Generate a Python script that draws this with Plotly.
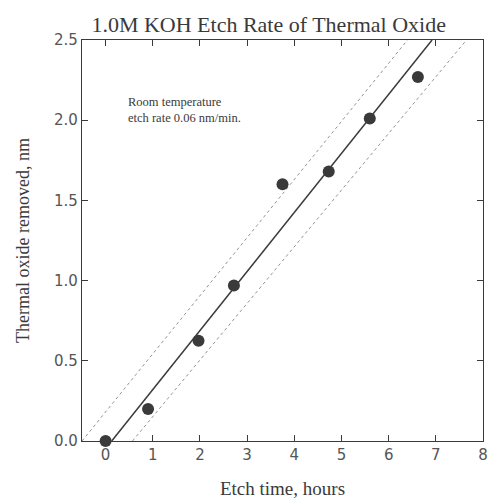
import plotly.graph_objects as go

etch_hours = [0.0, 0.9, 1.97, 2.72, 3.75, 4.73, 5.6, 6.62]
oxide_nm = [0.0, 0.2, 0.625, 0.97, 1.6, 1.68, 2.01, 2.27]

fit_x = [0.13, 6.92]
fit_y = [0.0, 2.5]
upper_x = [-0.5, 6.4]
upper_y = [0.0, 2.5]
lower_x = [0.57, 7.65]
lower_y = [0.0, 2.5]

x_ticks = [0, 1, 2, 3, 4, 5, 6, 7, 8]
y_ticks = [0.0, 0.5, 1.0, 1.5, 2.0, 2.5]

ink = "#3a3a3a"
serif = "Liberation Serif"
sans = "DejaVu Sans"

fig = go.Figure()
fig.add_trace(go.Scatter(x=upper_x, y=upper_y, mode="lines",
                         line=dict(color="#777", width=0.8, dash="dot"), showlegend=False))
fig.add_trace(go.Scatter(x=lower_x, y=lower_y, mode="lines",
                         line=dict(color="#777", width=0.8, dash="dot"), showlegend=False))
fig.add_trace(go.Scatter(x=fit_x, y=fit_y, mode="lines",
                         line=dict(color=ink, width=1.5), showlegend=False))
fig.add_trace(go.Scatter(x=etch_hours, y=oxide_nm, mode="markers",
                         marker=dict(color=ink, size=12), showlegend=False, cliponaxis=False))

axis_common = dict(showline=True, linecolor=ink, linewidth=1.2, mirror="ticks",
                   ticks="inside", ticklen=6, tickcolor=ink, showgrid=False, zeroline=False,
                   tickfont=dict(family=sans, size=15, color="#555"))

fig.update_xaxes(range=[-0.5, 8], tickvals=x_ticks, ticktext=[str(t) for t in x_ticks],
                 title=dict(text="Etch time, hours", font=dict(family=serif, size=19, color=ink), standoff=18),
                 **axis_common)
fig.update_yaxes(range=[0, 2.5], tickvals=y_ticks, ticktext=[f"{t:.1f}" for t in y_ticks],
                 title=dict(text="Thermal oxide removed, nm", font=dict(family=serif, size=18, color=ink), standoff=19),
                 **axis_common)

fig.add_annotation(x=0.44, y=2.17, xref="x", yref="y", xanchor="left", yanchor="top",
                   text="Room temperature<br>etch rate 0.06 nm/min.", showarrow=False, align="left",
                   font=dict(family=serif, size=12.5, color=ink))

fig.update_layout(
    width=493, height=501,
    margin=dict(l=82, r=5, t=40, b=60),
    plot_bgcolor="white", paper_bgcolor="white",
    title=dict(text="1.0M KOH Etch Rate of Thermal Oxide", x=0.545, xanchor="center", y=0.952, yanchor="middle",
               font=dict(family=serif, size=22, color=ink)),
)

fig.write_html("out.html")
